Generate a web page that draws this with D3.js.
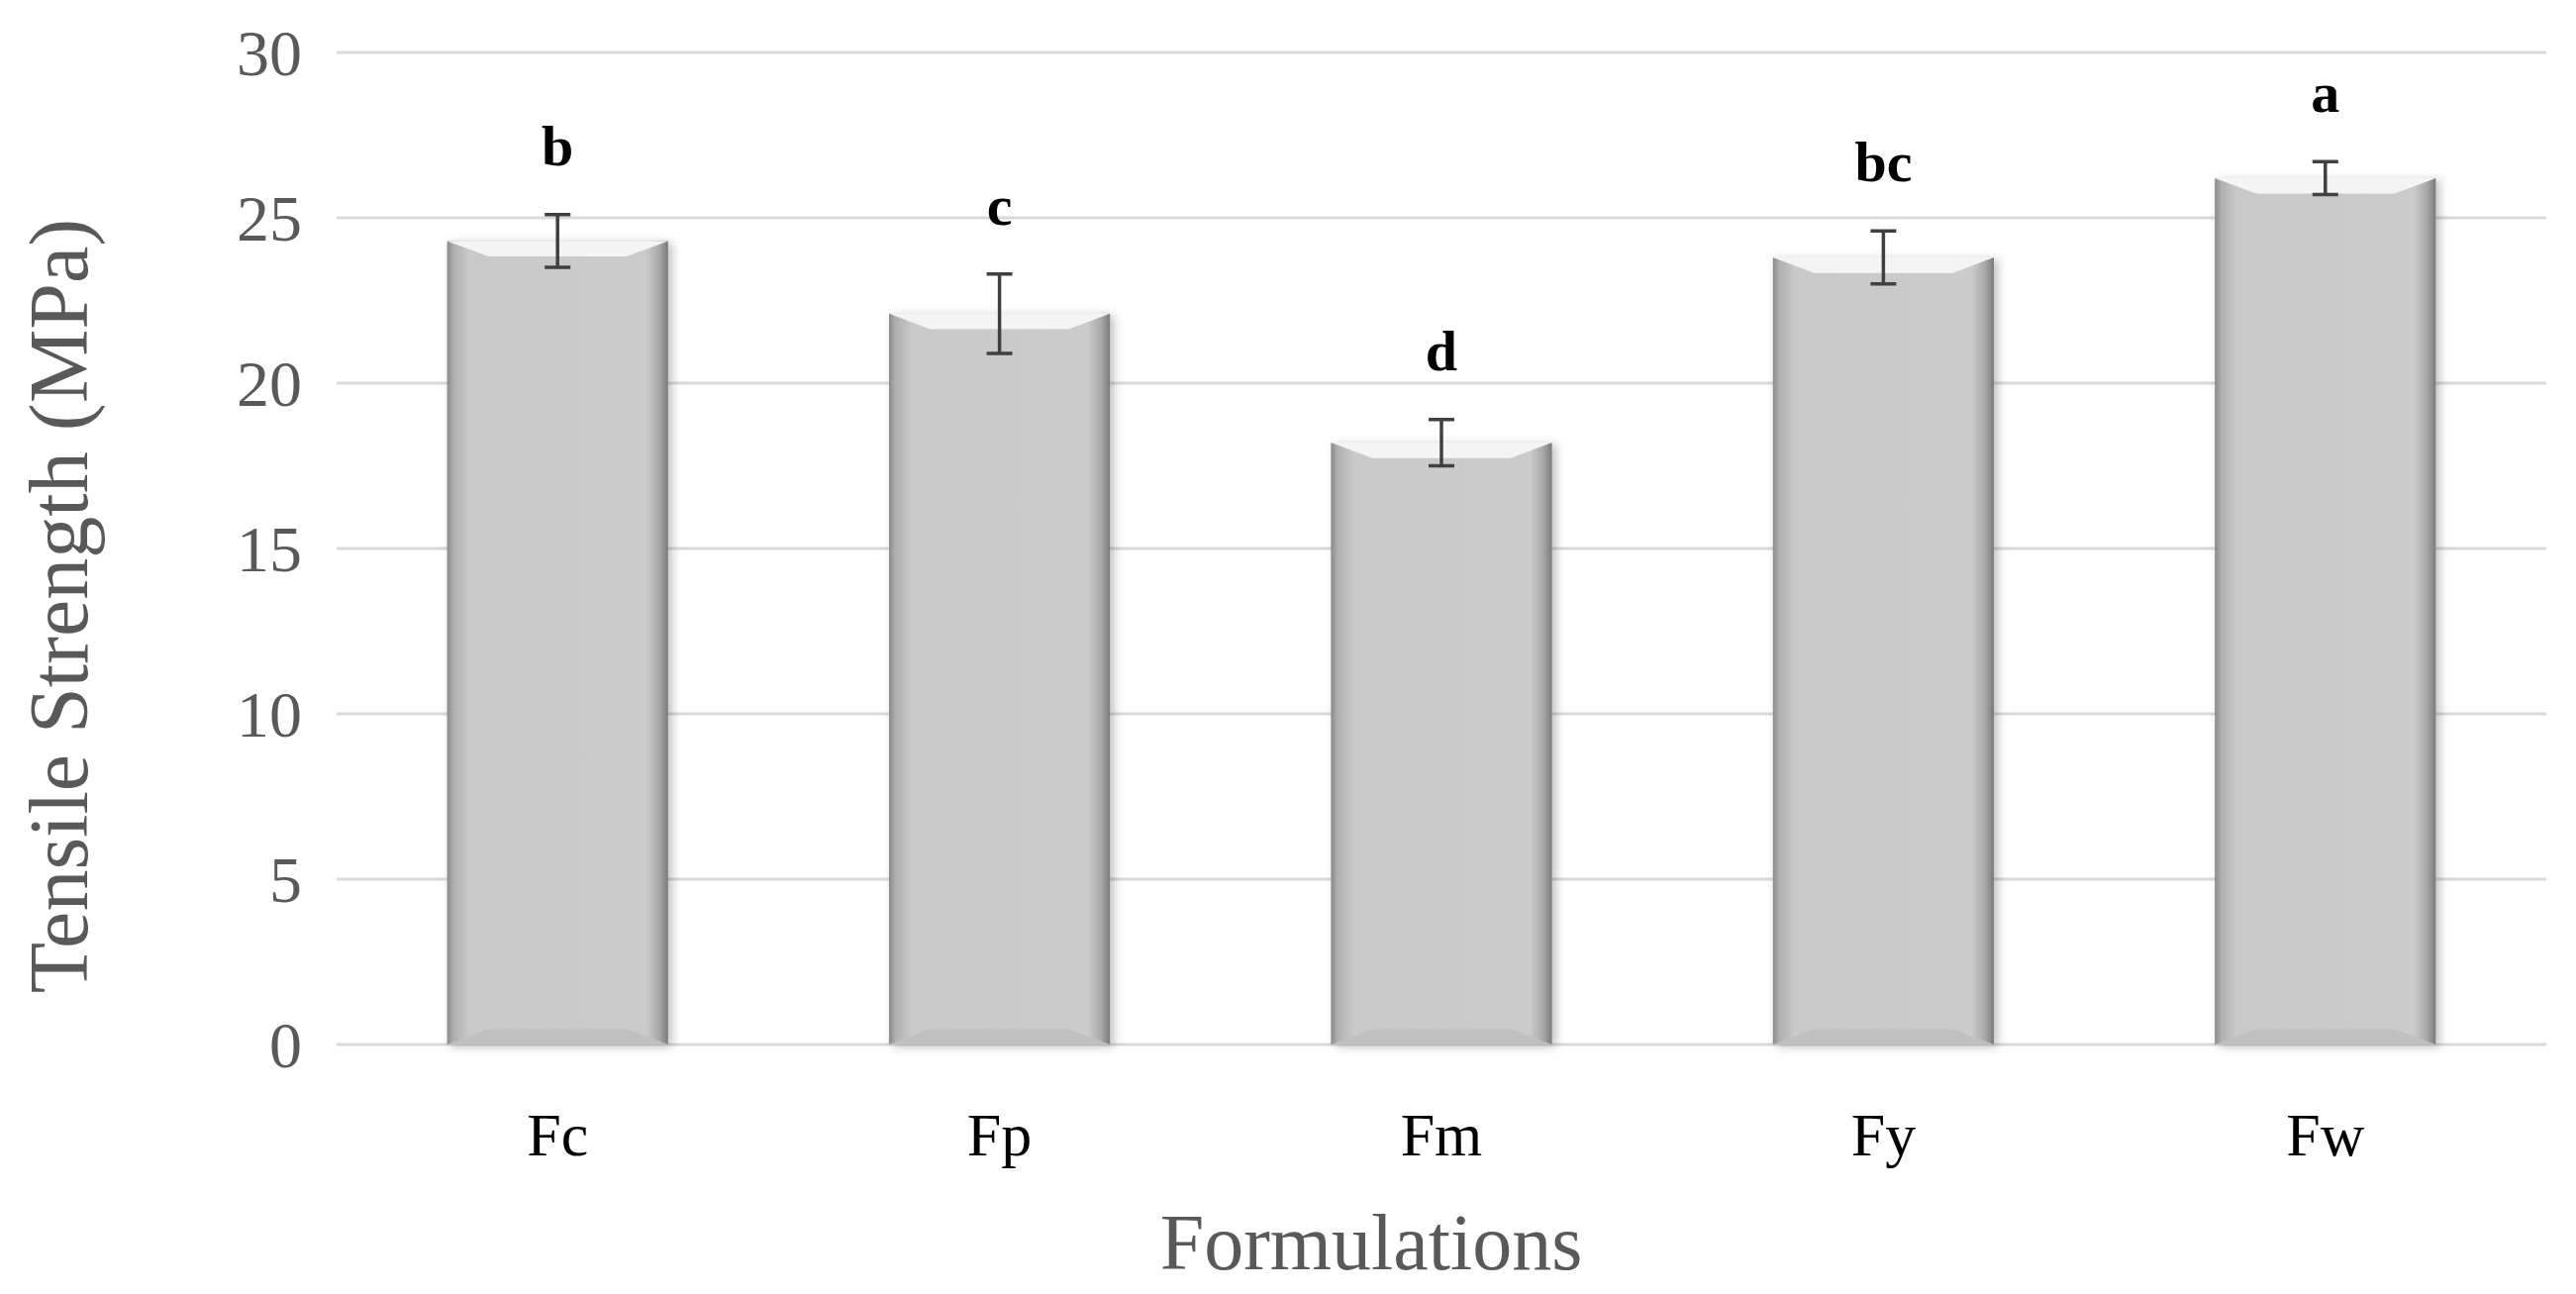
<!DOCTYPE html>
<html><head><meta charset="utf-8">
<script src="https://cdn.jsdelivr.net/npm/d3@7"></script>
<style>body{margin:0;background:#fff}</style></head>
<body><svg id="c" width="2602" height="1307"></svg>
<script>
const categories = ["Fc","Fp","Fm","Fy","Fw"];
const values = [24.3, 22.1, 18.2, 23.8, 26.2];
const errors = [0.8, 1.2, 0.7, 0.8, 0.5];
const letters = ["b","c","d","bc","a"];
const yTicks = [0,5,10,15,20,25,30];

const svg = d3.select("#c");
const L=340,R=2572,T=53,B=1055;
const x = d3.scaleBand().domain(categories).range([L,R]).paddingInner(0.5).paddingOuter(0.25);
const y = d3.scaleLinear().domain([0,30]).range([B,T]);
const defs = svg.append("defs");
const g1 = defs.append("linearGradient").attr("id","side");
[[0,"#8a8a8a"],[0.03,"#b0b0b0"],[0.1,"#c9c9c9"],[0.9,"#cbcbcb"],[0.96,"#a8a8a8"],[1,"#7a7a7a"]].forEach(s=>g1.append("stop").attr("offset",s[0]).attr("stop-color",s[1]));
const f = defs.append("filter").attr("id","sh").attr("x","-10%").attr("width","130%");
f.append("feDropShadow").attr("dx",4).attr("dy",2).attr("stdDeviation",5).attr("flood-color","#000").attr("flood-opacity",0.25);

svg.append("g").selectAll("line").data(yTicks).join("line")
 .attr("x1",L).attr("x2",R).attr("y1",d=>y(d)).attr("y2",d=>y(d))
 .attr("stroke","#d9d9d9").attr("stroke-width",3);
svg.append("g").selectAll("text").data(yTicks).join("text")
 .attr("x",L-35).attr("y",d=>y(d)).attr("dy","0.35em").attr("text-anchor","end")
 .attr("font-family","Liberation Serif").attr("font-size",66).attr("fill","#595959").text(d=>d);

const bars = svg.append("g").selectAll("g").data(categories).join("g");
bars.each(function(c,i){
  const g=d3.select(this), x0=x(c), w=x.bandwidth(), y0=y(values[i]), b=26;
  g.append("rect").attr("x",x0).attr("y",y0).attr("width",w).attr("height",B-y0).attr("fill","url(#side)").attr("filter","url(#sh)");
  g.append("path").attr("d",`M${x0},${y0}L${x0+w},${y0}L${x0+w-b*1.6},${y0+b*0.6}L${x0+b*1.6},${y0+b*0.6}Z`).attr("fill","#f4f4f4");
  g.append("path").attr("d",`M${x0},${B}L${x0+w},${B}L${x0+w-b*1.6},${B-b*0.6}L${x0+b*1.6},${B-b*0.6}Z`).attr("fill","#c0c0c0");
  const cx=x0+w/2, e1=y(values[i]+errors[i]), e2=y(values[i]-errors[i]);
  g.append("path").attr("d",`M${cx},${e1}V${e2}M${cx-13},${e1}H${cx+13}M${cx-13},${e2}H${cx+13}`).attr("stroke","#404040").attr("stroke-width",3.5).attr("fill","none");
  g.append("text").attr("x",cx).attr("y",e1-50).attr("text-anchor","middle").attr("font-weight","bold")
   .attr("font-family","Liberation Serif").attr("font-size",58).attr("fill","#000").text(letters[i]);
});
svg.append("g").selectAll("text").data(categories).join("text")
 .attr("x",d=>x(d)+x.bandwidth()/2).attr("y",1167).attr("text-anchor","middle")
 .attr("font-family","Liberation Serif").attr("font-size",62).attr("fill","#000").text(d=>d);
svg.append("text").attr("x",1385).attr("y",1282).attr("text-anchor","middle")
 .attr("font-family","Liberation Serif").attr("font-size",80).attr("fill","#595959").text("Formulations");
svg.append("text").attr("transform","translate(88,612) rotate(-90)").attr("text-anchor","middle")
 .attr("font-family","Liberation Serif").attr("font-size",84).attr("fill","#595959").text("Tensile Strength (MPa)");
</script></body></html>
